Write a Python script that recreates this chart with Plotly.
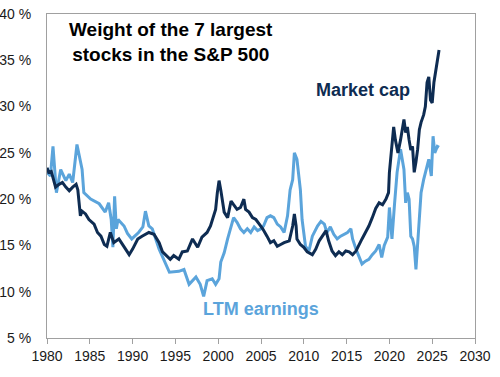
import plotly.graph_objects as go

mc_years = [1980.0, 1980.2, 1980.5, 1981.0, 1981.4, 1981.8, 1982.2, 1982.6, 1983.0, 1983.4, 1983.6, 1983.9,
            1984.1, 1984.5, 1984.9, 1985.5, 1985.9, 1986.3, 1986.7, 1987.0, 1987.4, 1987.8, 1988.4, 1989.0,
            1989.4, 1989.6, 1990.0, 1990.6, 1991.1, 1991.9, 1992.5, 1993.1, 1993.5, 1993.9, 1994.4, 1994.8,
            1995.4, 1995.8, 1996.4, 1997.0, 1997.6, 1998.1, 1998.7, 1999.1, 1999.5, 1999.7, 1999.9, 2000.1,
            2000.3, 2000.7, 2001.1, 2001.5, 2001.8, 2002.2, 2002.6, 2003.0, 2003.2, 2003.6, 2004.0, 2004.4,
            2004.8, 2005.2, 2005.7, 2006.1, 2006.5, 2006.9, 2007.3, 2007.7, 2008.3, 2008.7, 2008.9, 2009.1,
            2009.2, 2009.6, 2010.0, 2010.4, 2011.0, 2011.4, 2011.8, 2012.2, 2012.6, 2012.9, 2013.3, 2013.7,
            2014.1, 2014.5, 2014.9, 2015.3, 2015.7, 2016.1, 2016.4, 2016.8, 2017.2, 2017.6, 2018.0, 2018.4,
            2018.8, 2019.2, 2019.6, 2019.9, 2020.0, 2020.3, 2020.5, 2020.7, 2021.0, 2021.3, 2021.7, 2021.9,
            2022.1, 2022.3, 2022.5, 2022.7, 2022.9, 2023.1, 2023.3, 2023.5, 2023.7, 2024.0, 2024.2, 2024.4,
            2024.6, 2024.8, 2025.0, 2025.2, 2025.5, 2025.8]
mc_values = [23.4, 22.9, 23.0, 21.3, 21.6, 21.8, 21.3, 20.9, 21.3, 21.6, 21.0, 18.2,
             18.7, 18.4, 17.8, 17.3, 16.4, 16.0, 15.1, 14.9, 16.4, 15.3, 15.7, 14.8,
             14.3, 14.0, 14.6, 15.7, 16.0, 16.4, 16.2, 15.3, 14.3, 13.9, 13.5, 13.9,
             13.5, 14.3, 14.4, 15.7, 14.8, 15.9, 16.4, 17.1, 18.2, 18.9, 20.7, 22.0,
             21.0, 18.6, 18.0, 19.8, 19.4, 18.9, 19.1, 20.0, 18.9, 18.6, 18.0, 17.8,
             17.3, 16.8, 16.0, 15.3, 15.5, 14.9, 15.1, 15.3, 15.5, 17.1, 18.4, 17.1,
             15.7, 15.1, 14.8, 14.3, 14.0, 14.6, 15.5, 16.0, 16.6, 15.5, 14.4, 13.9,
             14.3, 14.0, 14.4, 14.3, 14.0, 14.4, 15.0, 15.7, 16.4, 17.1, 18.0, 19.0,
             19.6, 19.4, 20.0, 20.7, 22.9, 25.7, 27.8, 26.4, 25.0, 26.4, 28.6, 27.2,
             27.8, 26.4, 25.3, 25.7, 22.9, 24.0, 25.4, 27.5, 28.3, 29.1, 30.0, 32.6,
             33.2, 30.7, 30.4, 32.6, 34.3, 36.1]

ltm_years = [1980.0, 1980.4, 1980.7, 1981.1, 1981.6, 1982.2, 1982.6, 1983.0, 1983.5, 1984.1, 1984.3, 1985.1,
             1986.1, 1986.8, 1987.2, 1987.5, 1987.7, 1987.9, 1988.1, 1988.3, 1989.0, 1989.4, 1989.9, 1990.7,
             1991.2, 1991.5, 1991.9, 1992.3, 1993.1, 1993.9, 1994.3, 1995.4, 1996.0, 1996.6, 1997.4, 1997.9,
             1998.3, 1998.7, 1999.3, 1999.7, 2000.1, 2000.3, 2000.7, 2001.1, 2001.5, 2001.8, 2002.2, 2002.6,
             2003.0, 2003.4, 2003.8, 2004.2, 2004.6, 2005.0, 2005.3, 2005.7, 2006.1, 2006.5, 2006.9, 2007.3,
             2007.7, 2008.1, 2008.4, 2008.7, 2008.9, 2009.2, 2009.6, 2009.8, 2010.2, 2010.6, 2011.0, 2011.6,
             2012.0, 2012.4, 2012.7, 2013.1, 2013.5, 2013.9, 2014.3, 2014.7, 2015.1, 2015.5, 2015.7, 2016.1,
             2016.4, 2016.8, 2017.2, 2017.6, 2018.0, 2018.4, 2018.8, 2019.1, 2019.4, 2019.8, 2020.0, 2020.3,
             2020.6, 2020.9, 2021.3, 2021.7, 2021.9, 2022.1, 2022.3, 2022.5, 2022.7, 2022.9, 2023.1, 2023.3,
             2023.5, 2023.7, 2024.0, 2024.4, 2024.6, 2024.9, 2025.1, 2025.3, 2025.6, 2025.8]
ltm_values = [22.9, 22.5, 25.7, 20.7, 23.2, 22.0, 22.7, 21.8, 25.9, 23.2, 20.7, 20.0,
              19.5, 18.6, 19.6, 17.8, 14.8, 20.3, 16.8, 17.8, 17.1, 16.3, 15.7, 16.4,
              17.0, 18.7, 17.1, 16.8, 14.6, 12.8, 12.1, 12.2, 12.4, 10.8, 11.6, 10.8,
              9.5, 11.2, 11.4, 10.8, 11.4, 13.2, 14.2, 15.7, 17.1, 18.0, 17.5, 16.8,
              16.4, 16.8, 16.4, 17.0, 16.6, 16.8, 17.1, 18.0, 18.2, 18.0, 17.3, 17.0,
              16.4, 18.2, 21.0, 22.1, 25.0, 24.3, 21.0, 17.8, 14.9, 14.4, 16.0, 17.1,
              17.6, 17.3, 16.4, 17.0, 16.2, 15.7, 16.0, 16.2, 16.4, 16.8, 15.7, 14.6,
              13.9, 13.0, 13.3, 13.5, 14.0, 14.4, 15.1, 13.7, 15.0, 15.9, 19.1, 15.7,
              19.5, 22.9, 25.4, 23.2, 19.6, 20.7, 20.0, 16.0, 15.7, 14.9, 12.4, 14.9,
              17.8, 20.7, 22.1, 23.5, 24.3, 22.5, 26.8, 25.0, 25.7, 25.6]

x_ticks = [1980, 1985, 1990, 1995, 2000, 2005, 2010, 2015, 2020, 2025, 2030]
x_labels = ["1980", "1985", "1990", "1995", "2000", "2005", "2010", "2015", "2020", "2025", "2030"]
y_ticks = [5, 10, 15, 20, 25, 30, 35, 40]
y_labels = ["5 %", "10 %", "15 %", "20 %", "25 %", "30 %", "35 %", "40 %"]

DARK = "#0E2C52"
LIGHT = "#5BA4DB"
FONT = "Liberation Sans, Arial, sans-serif"
TICKFONT = dict(family=FONT, size=14, color="#1a1a1a")

fig = go.Figure()
fig.add_trace(go.Scatter(x=ltm_years, y=ltm_values, mode="lines",
                         line=dict(color=LIGHT, width=3), name="LTM earnings"))
fig.add_trace(go.Scatter(x=mc_years, y=mc_values, mode="lines",
                         line=dict(color=DARK, width=3), name="Market cap"))

fig.update_layout(
    width=500, height=377,
    margin=dict(l=47, r=25, t=14, b=39),
    paper_bgcolor="white", plot_bgcolor="white",
    showlegend=False,
    font=dict(family=FONT, size=14, color="#1a1a1a"),
    xaxis=dict(range=[1980, 2030], tickmode="array", tickvals=x_ticks, ticktext=x_labels,
               tickfont=TICKFONT, showgrid=False, zeroline=False, automargin=False,
               showline=True, linecolor="#A0A0A0", linewidth=1, mirror=True,
               ticks="outside", ticklen=5, tickcolor="#A0A0A0"),
    yaxis=dict(range=[5, 40], tickmode="array", tickvals=y_ticks, ticktext=y_labels,
               tickfont=TICKFONT, showgrid=False, zeroline=False, automargin=False,
               showline=True, linecolor="#A0A0A0", linewidth=1, mirror=True,
               ticks="", ticklabelstandoff=12),
    annotations=[
        dict(x=1994.5, y=37.0, xref="x", yref="y",
             text="<b>Weight of the 7 largest<br>stocks in the S&P 500</b>",
             showarrow=False, font=dict(family=FONT, size=19, color="black"), align="center"),
        dict(x=2016.9, y=31.8, xref="x", yref="y", text="<b>Market cap</b>",
             showarrow=False, font=dict(family=FONT, size=18, color=DARK)),
        dict(x=2005.0, y=8.1, xref="x", yref="y", text="<b>LTM earnings</b>",
             showarrow=False, font=dict(family=FONT, size=18, color=LIGHT)),
    ],
)

fig.write_html("out.html", config={"displayModeBar": False},
               post_script="document.body.style.margin='0';")
